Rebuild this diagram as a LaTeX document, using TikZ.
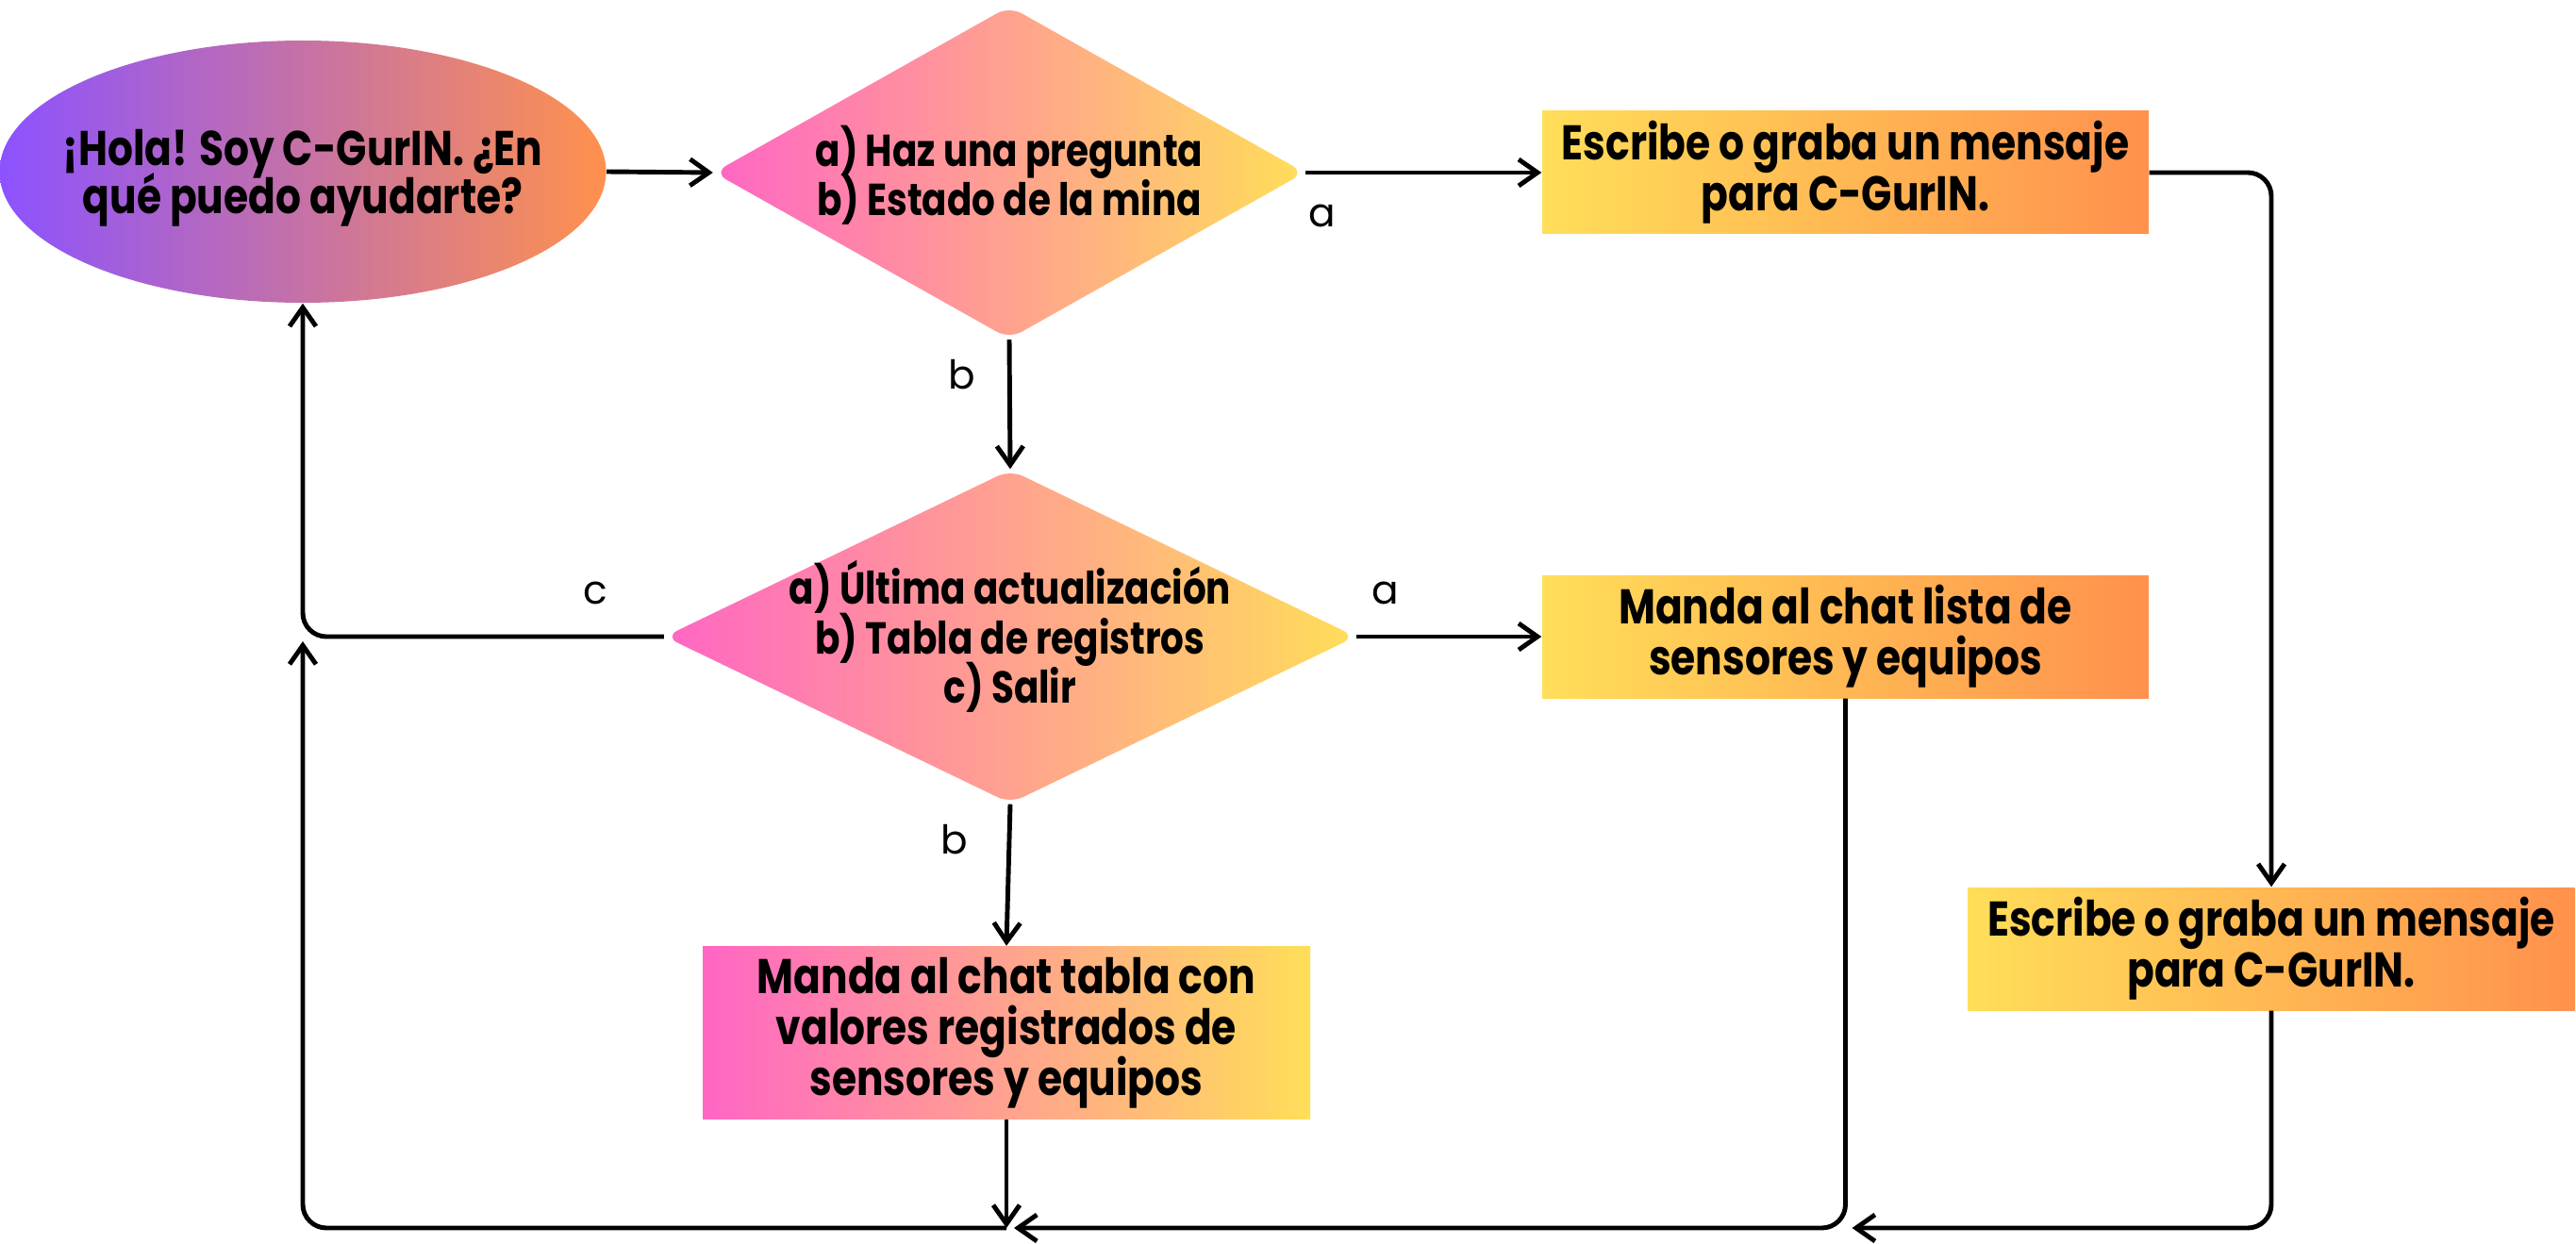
\documentclass[tikz,border=0pt]{standalone}
\usepackage{fontspec}
\setmainfont{Poppins}
\newfontfamily\boxfont{Poppins}[FakeStretch=0.82]
\newfontfamily\optfont{Poppins}
\usetikzlibrary{shapes.geometric,arrows.meta}
\lineskiplimit=-20pt

\begin{document}
\begin{tikzpicture}[
    every node/.style={font=\boxfont\bfseries\fontsize{14.7}{15.4}\selectfont, align=center},
    startnode/.style={ellipse, inner sep=0, minimum width=6.43cm, minimum height=2.78cm,
        left color=cg_purple, right color=cg_orange},
    choice/.style={diamond, inner sep=0, rounded corners=0.15cm,
        left color=cg_pink, right color=cg_yellow},
    choicetxt/.style={font=\boxfont\bfseries\fontsize{13.5}{14.9}\selectfont},
    msgbox/.style={rectangle, inner sep=0, minimum width=6.43cm, minimum height=1.30cm,
        left color=cg_yellow, right color=cg_orange},
    tablebox/.style={rectangle, inner sep=0, minimum width=6.44cm, minimum height=1.83cm,
        left color=cg_pink, right color=cg_yellow},
    flow/.style={line width=1.4pt, rounded corners=0.25cm,
        -{Straight Barb[length=2mm, width=2.8mm]}},
    opt/.style={font=\optfont\fontsize{12}{14}\selectfont}
]
    \definecolor{cg_purple}{HTML}{8C52FF}
    \definecolor{cg_orange}{HTML}{FF914D}
    \definecolor{cg_pink}{HTML}{FF66C4}
    \definecolor{cg_yellow}{HTML}{FFDE59}
    %\draw[help lines] (0,0) grid (27,13);
    \path[use as bounding box, fill=white] (0,0) rectangle (27.31,13.18);

    \node[startnode] (hola) at (3.21,11.36) {};
    \node[font=\boxfont\bfseries\fontsize{14.7}{14.4}\selectfont] (holatxt) at ([yshift=-0.07cm]hola)
        {¡Hola! Soy C-GurIN. ¿En\\qué puedo ayudarte?};

    \node[choice, minimum width=6.27cm, minimum height=3.53cm] (menu) at (10.70,11.35) {};
    \node[choicetxt] (menutxt) at ([yshift=-0.03cm]menu) {a) Haz una pregunta\\b) Estado de la mina};

    \node[msgbox] (mensaje) at (19.565,11.35) {Escribe o graba un mensaje\\para C-GurIN.};

    \node[choice, minimum width=7.33cm, minimum height=3.54cm] (estado) at (10.71,6.43) {};
    \node[choicetxt] (estadotxt) at (estado) {a) Última actualización\\b) Tabla de registros\\c) Salir};

    \node[msgbox] (lista) at (19.565,6.43) {Manda al chat lista de\\sensores y equipos};
    \node[msgbox] (mensaje2) at (24.08,3.12) {Escribe o graba un mensaje\\para C-GurIN.};
    \node[tablebox] (tabla) at (10.67,2.23) {Manda al chat tabla con\\valores registrados de\\sensores y equipos};

    \coordinate (fondo) at (0,0.16);

    \draw[flow] (hola.east) -- (menu.west);
    \draw[flow] (menu.east) -- node[opt, pos=0.07, below=0.2cm] {a} (mensaje.west);
    \draw[flow] (menu.south) -- node[opt, pos=0.27, left=0.22cm] {b} (estado.north);
    \draw[flow] (estado.east) -- node[opt, pos=0.155, above=0.2cm] {a} (lista.west);
    \draw[flow] (estado.south) -- node[opt, pos=0.25, left=0.3cm] {b} (tabla.north);
    \draw[flow] (estado.west) -- node[opt, pos=0.19, above=0.2cm] {c} (hola |- estado.west) -- (hola.south);
    \draw[flow] (mensaje.east) -- (mensaje2 |- mensaje.east) -- (mensaje2.north);

    % vuelta al inicio
    \draw[flow] (tabla.south) -- (tabla |- fondo);
    \draw[flow] (lista.south) -- (lista |- fondo) -- ([xshift=0.08cm]tabla |- fondo);
    \draw[flow] (mensaje2.south) -- (mensaje2 |- fondo) -- ([xshift=0.07cm]lista |- fondo);
    \draw[flow] (tabla |- fondo) -- (hola |- fondo) -- ([yshift=-0.05cm]hola |- estado.west);
\end{tikzpicture}
\end{document}
